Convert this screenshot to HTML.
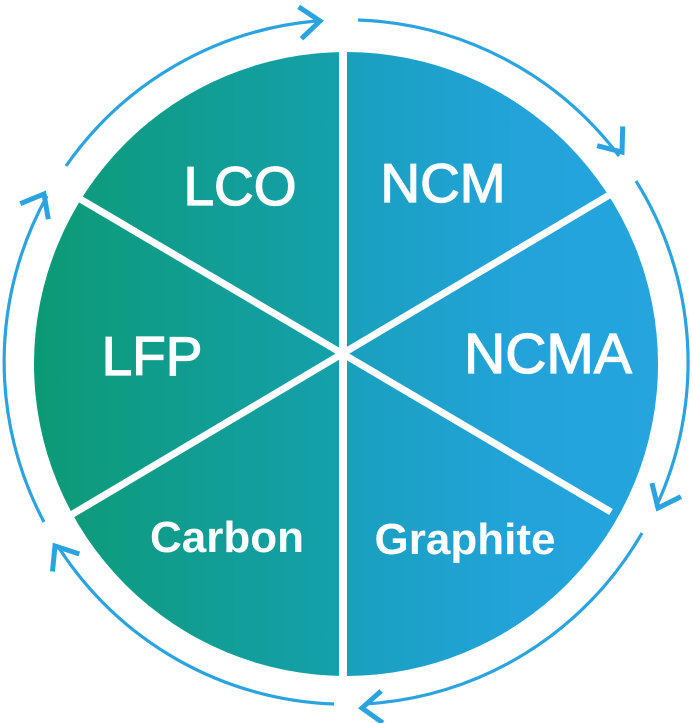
<!DOCTYPE html>
<html><head><meta charset="utf-8"><style>
html,body{margin:0;padding:0;background:#fff;}
svg{display:block;}
text{font-family:"Liberation Sans",Arial,sans-serif;fill:#fff;text-anchor:middle;}
.m{stroke:#fff;stroke-width:1.3;}
.b{font-weight:bold;}
</style></head><body>
<svg width="693" height="723" viewBox="0 0 693 723" xmlns="http://www.w3.org/2000/svg">
<defs>
<linearGradient id="gL" x1="33" y1="0" x2="340" y2="0" gradientUnits="userSpaceOnUse">
<stop offset="0" stop-color="#0c9a74"/><stop offset="1" stop-color="#15a0ac"/>
</linearGradient>
<linearGradient id="gR" x1="347" y1="0" x2="659" y2="0" gradientUnits="userSpaceOnUse">
<stop offset="0" stop-color="#19a0bd"/><stop offset="0.55" stop-color="#23a3da"/><stop offset="1" stop-color="#25a4de"/>
</linearGradient>
<clipPath id="cl"><rect x="0" y="0" width="339" height="723"/></clipPath>
<clipPath id="cr"><rect x="347" y="0" width="400" height="723"/></clipPath>
</defs>
<circle cx="346" cy="364" r="312" fill="url(#gL)" clip-path="url(#cl)"/>
<circle cx="346" cy="364" r="312" fill="url(#gR)" clip-path="url(#cr)"/>
<g stroke="#fff" stroke-width="7" stroke-linecap="butt">
<line x1="75" y1="196" x2="611" y2="512"/>
<line x1="611" y1="194" x2="71" y2="515"/>
</g>
<g fill="none" stroke="#2aa3df" stroke-width="3.2">
<path d="M66,166 A342,342 0 0 1 316,21"/>
<path d="M358,20 A342,342 0 0 1 619,156"/>
<path d="M636,181 A342,342 0 0 1 656,507"/>
<path d="M642,533 A342,342 0 0 1 364,704"/>
<path d="M334,704 A342,342 0 0 1 59,548"/>
<path d="M44,522 A342,342 0 0 1 47,196"/>
</g>
<g fill="none" stroke="#2aa3df" stroke-width="5" stroke-linejoin="miter">
<polyline points="-20,-16 0,0 -20,16" transform="translate(320,21) rotate(-5)"/>
<polyline points="-20,-16 0,0 -20,16" transform="translate(622,152) rotate(53)"/>
<polyline points="-20,-16 0,0 -20,16" transform="translate(658,508) rotate(115)"/>
<polyline points="-20,-16 0,0 -20,16" transform="translate(362,708) rotate(177)"/>
<polyline points="-20,-16 0,0 -20,16" transform="translate(55,546) rotate(237)"/>
<polyline points="-20,-16 0,0 -20,16" transform="translate(44,194) rotate(-61)"/>
</g>
<text class="m" x="240" y="205" font-size="55">LCO</text>
<text class="m" x="443" y="202" font-size="55">NCM</text>
<text class="m" x="152" y="375" font-size="55">LFP</text>
<text class="m" x="548" y="373" font-size="57">NCMA</text>
<text class="b" x="227" y="552" font-size="44">Carbon</text>
<text class="b" x="465" y="554" font-size="44">Graphite</text>
</svg>
</body></html>
